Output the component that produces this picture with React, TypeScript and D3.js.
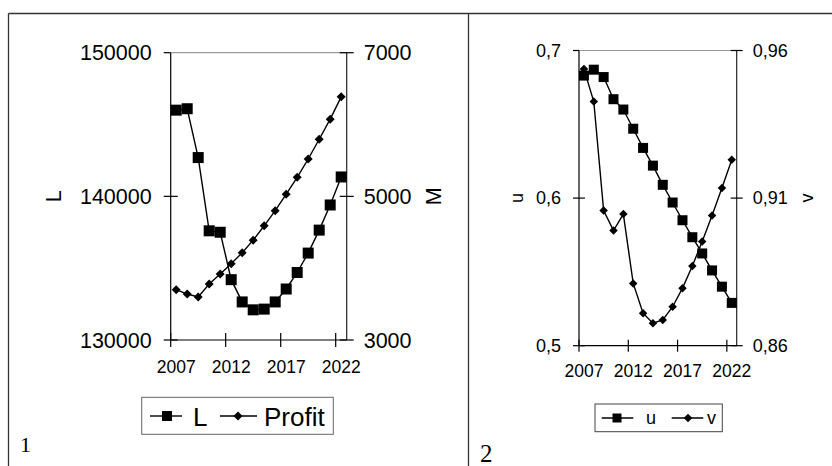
import React from 'react';
import * as d3 from 'd3';

// годы (категории)
const years = d3.range(2007, 2023);
const yearLabels = [2007, 2012, 2017, 2022];

// панель 1
const seriesL = [146000, 146100, 142700, 137600, 137500, 134200, 132650, 132100, 132150, 132650, 133550, 134700, 136050, 137650, 139400, 141350];
const seriesProfit = [3700, 3640, 3600, 3780, 3920, 4060, 4215, 4390, 4590, 4800, 5030, 5265, 5520, 5795, 6075, 6385];
const ticksL = [130000, 140000, 150000];
const ticksM = [3000, 5000, 7000];

// панель 2
const seriesU = [0.683, 0.687, 0.682, 0.667, 0.66, 0.647, 0.634, 0.622, 0.609, 0.597, 0.585, 0.5735, 0.5625, 0.551, 0.54, 0.529];
const seriesV = [0.9537, 0.9427, 0.9058, 0.899, 0.9046, 0.8811, 0.871, 0.8676, 0.8687, 0.8732, 0.8795, 0.887, 0.8953, 0.9041, 0.9134, 0.923];
const ticksU = [0.5, 0.6, 0.7];
const ticksV = [0.86, 0.91, 0.96];

const FONT = "'Liberation Sans', Arial, sans-serif";
const commaFmt = (d: number) => String(d).replace('.', ',');

interface PanelProps {
  box: { x0: number; x1: number; y0: number; y1: number };
  left: { values: number[]; ticks: number[]; title: string; fmt: (d: number) => string; font: number; titleX: number; sq: number };
  right: { values: number[]; ticks: number[]; title: string; fmt: (d: number) => string; font: number; titleX: number; dm: number };
  xFont: number;
  xBaseline: number;
  tick: number;
}

const square = (cx: number, cy: number, s: number, key?: any) => (
  <rect key={key} x={cx - s / 2} y={cy - s / 2} width={s} height={s} fill="#000" />
);
const diamond = (cx: number, cy: number, s: number, key?: any) => (
  <path key={key} d={`M${cx},${cy - s / 2}L${cx + s / 2},${cy}L${cx},${cy + s / 2}L${cx - s / 2},${cy}Z`} fill="#000" />
);

const Panel: React.FC<PanelProps> = ({ box, left, right, xFont, xBaseline, tick }) => {
  const x = d3.scaleBand<number>().domain(years).range([box.x0, box.x1]).padding(0);
  const cx = (yr: number) => (x(yr) as number) + x.bandwidth() / 2;
  const yl = d3.scaleLinear().domain(d3.extent(left.ticks) as [number, number]).range([box.y1, box.y0]);
  const yr = d3.scaleLinear().domain(d3.extent(right.ticks) as [number, number]).range([box.y1, box.y0]);

  const lineL = d3.line<number>().x((_, i) => cx(years[i])).y((d) => yl(d));
  const lineR = d3.line<number>().x((_, i) => cx(years[i])).y((d) => yr(d));
  const midY = (box.y0 + box.y1) / 2;

  return (
    <g>
      {/* рамка области построения сверху */}
      <line x1={box.x0} x2={box.x1} y1={box.y0} y2={box.y0} stroke="#9a9a9a" strokeWidth={1.2} />
      {/* оси */}
      <line x1={box.x0} x2={box.x0} y1={box.y0} y2={box.y1} stroke="#000" strokeWidth={1.2} />
      <line x1={box.x1} x2={box.x1} y1={box.y0} y2={box.y1} stroke="#222" strokeWidth={1.2} />
      <line x1={box.x0} x2={box.x1} y1={box.y1} y2={box.y1} stroke="#000" strokeWidth={1.2} />
      {left.ticks.map((t) => (
        <g key={'l' + t}>
          <line x1={box.x0 - tick} x2={t === left.ticks[left.ticks.length - 1] ? box.x0 : box.x0 + tick} y1={yl(t)} y2={yl(t)} stroke="#000" strokeWidth={1.2} />
          <text x={box.x0 - tick - 12} y={yl(t)} dy="0.35em" textAnchor="end" fontSize={left.font} fontFamily={FONT}>{left.fmt(t)}</text>
        </g>
      ))}
      {right.ticks.map((t) => (
        <g key={'r' + t}>
          <line x1={box.x1 - tick} x2={box.x1 + tick} y1={yr(t)} y2={yr(t)} stroke="#000" strokeWidth={1.2} />
          <text x={box.x1 + tick + 10} y={yr(t)} dy="0.35em" textAnchor="start" fontSize={right.font} fontFamily={FONT}>{right.fmt(t)}</text>
        </g>
      ))}
      {yearLabels.map((yrLab) => (
        <g key={'x' + yrLab}>
          <line x1={x(yrLab) as number} x2={x(yrLab) as number} y1={box.y1 - tick} y2={box.y1 + tick} stroke="#000" strokeWidth={1.2} />
          <text x={cx(yrLab)} y={xBaseline} textAnchor="middle" fontSize={xFont} fontFamily={FONT}>{yrLab}</text>
        </g>
      ))}
      <text transform={`translate(${left.titleX},${midY}) rotate(-90)`} textAnchor="middle" dy="0.35em" fontSize={left.font} fontFamily={FONT}>{left.title}</text>
      <text transform={`translate(${right.titleX},${midY}) rotate(-90)`} textAnchor="middle" dy="0.35em" fontSize={right.font} fontFamily={FONT}>{right.title}</text>

      <path d={lineL(left.values) || ''} fill="none" stroke="#000" strokeWidth={1.4} />
      <path d={lineR(right.values) || ''} fill="none" stroke="#000" strokeWidth={1.4} />
      {left.values.map((v, i) => square(cx(years[i]), yl(v), left.sq, 's' + i))}
      {right.values.map((v, i) => diamond(cx(years[i]), yr(v), right.dm, 'd' + i))}
    </g>
  );
};

export default function App() {
  return (
    <svg width={832} height={466} style={{ position: 'absolute', left: 0, top: 0, background: '#fff' }}>
      <rect width={832} height={466} fill="#fff" />
      {/* внешняя рамка таблицы */}
      <line x1={8.5} x2={832} y1={13.5} y2={13.5} stroke="#333" strokeWidth={1.3} />
      <line x1={8.5} x2={8.5} y1={13.5} y2={466} stroke="#333" strokeWidth={1.3} />
      <line x1={468.5} x2={468.5} y1={13.5} y2={466} stroke="#333" strokeWidth={1.3} />

      <Panel
        box={{ x0: 170.7, x1: 346.7, y0: 52.7, y1: 340 }}
        left={{ values: seriesL, ticks: ticksL, title: 'L', fmt: (d) => String(d), font: 21.5, titleX: 53, sq: 11 }}
        right={{ values: seriesProfit, ticks: ticksM, title: 'M', fmt: (d) => String(d), font: 21.5, titleX: 433, dm: 9 }}
        xFont={17.5}
        xBaseline={373}
        tick={7}
      />
      <Panel
        box={{ x0: 579, x1: 736.7, y0: 50.5, y1: 345.7 }}
        left={{ values: seriesU, ticks: ticksU, title: 'u', fmt: commaFmt, font: 18, titleX: 516.7, sq: 10 }}
        right={{ values: seriesV, ticks: ticksV, title: 'v', fmt: commaFmt, font: 18, titleX: 806.7, dm: 8.5 }}
        xFont={17.5}
        xBaseline={377}
        tick={6}
      />

      {/* легенда 1 */}
      <rect x={141.7} y={397.3} width={191.6} height={37} fill="#fff" stroke="#666" strokeWidth={1} />
      <line x1={150} x2={182} y1={416} y2={416} stroke="#000" strokeWidth={1.4} />
      {square(167, 416, 10)}
      <text x={193} y={426} fontSize={26} fontFamily={FONT}>L</text>
      <line x1={220} x2={257} y1={416} y2={416} stroke="#000" strokeWidth={1.4} />
      {diamond(238, 416, 9)}
      <text x={264} y={426} fontSize={26} fontFamily={FONT}>Profit</text>

      {/* легенда 2 */}
      <rect x={595} y={404} width={127.3} height={27.7} fill="#fff" stroke="#444" strokeWidth={1} />
      <line x1={601.7} x2={633.3} y1={418} y2={418} stroke="#000" strokeWidth={1.4} />
      {square(617, 418, 9)}
      <text x={646} y={424} fontSize={18} fontFamily={FONT}>u</text>
      <line x1={671.7} x2={703.3} y1={418} y2={418} stroke="#000" strokeWidth={1.4} />
      {diamond(688, 418, 8.5)}
      <text x={707} y={424} fontSize={18} fontFamily={FONT}>v</text>

      <text x={20} y={452} fontSize={22} fontFamily="'Liberation Serif', 'Times New Roman', serif">1</text>
      <text x={480} y={462} fontSize={25} fontFamily="'Liberation Serif', 'Times New Roman', serif">2</text>
    </svg>
  );
}
